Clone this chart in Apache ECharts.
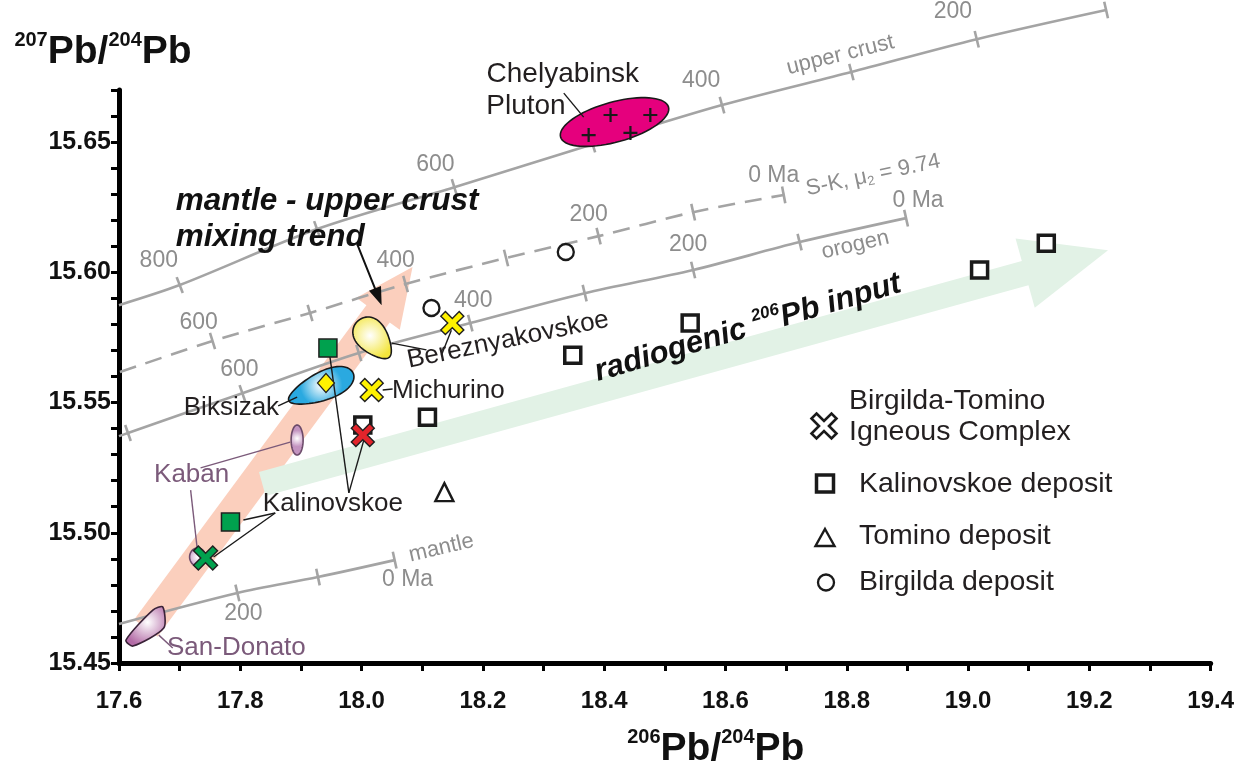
<!DOCTYPE html>
<html><head><meta charset="utf-8">
<script src="https://cdn.jsdelivr.net/npm/echarts@6/dist/echarts.min.js"></script>
<style>html,body{margin:0;padding:0;background:#fff}#c{width:1237px;height:782px}</style>
</head><body><div id="c"></div>
<script>
// ================= DATA =================
const xTickLabels = [17.6, 17.8, 18.0, 18.2, 18.4, 18.6, 18.8, 19.0, 19.2, 19.4];
const yTickLabels = [15.45, 15.50, 15.55, 15.60, 15.65];

// Pb growth curves (tick points every 100 Ma)
const upperCrustX = [17.6, 17.7001, 17.9265, 18.1529, 18.381, 18.5943, 18.8076, 19.0143, 19.2276];
const upperCrustY = [15.5874, 15.5951, 15.6166, 15.6327, 15.6492, 15.6642, 15.6769, 15.6895, 15.7007];
const upperCrustTicks = [1, 2, 3, 4, 5, 6, 7, 8];
const skX = [17.6016, 17.7542, 17.915, 18.0725, 18.2382, 18.3908, 18.5467, 18.696];
const skY = [15.5617, 15.5736, 15.5844, 15.5955, 15.6055, 15.6139, 15.6231, 15.6297];
const skTicks = [1, 2, 3, 4, 5, 6, 7];
const orogenX = [17.6, 17.6148, 17.8034, 17.9954, 18.1792, 18.3678, 18.5467, 18.7222, 18.8978];
const orogenY = [15.5371, 15.5383, 15.5536, 15.569, 15.5805, 15.592, 15.6009, 15.6116, 15.6208];
const orogenTicks = [1, 2, 3, 4, 5, 6, 7, 8];
const mantleX = [17.6, 17.7952, 17.9281, 18.0545];
const mantleY = [15.465, 15.4769, 15.483, 15.4895];
const mantleTicks = [1, 2, 3];

// trend arrows [start, tip]
const mixingArrow = [[17.6443, 15.4634], [18.084, 15.602]];
const radiogenicArrow = [[17.8363, 15.5187], [19.2308, 15.6085]];
const pointerArrow = [[17.9921, 15.6112], [18.0331, 15.5874]];

// samples
const kalinovskoeDepX = [19.129, 19.019, 18.5418, 18.3482, 18.1086, 18.002];
const kalinovskoeDepY = [15.6112, 15.6009, 15.5805, 15.5682, 15.5444, 15.5414];
const birgildaDepX = [18.3367, 18.1152];
const birgildaDepY = [15.6078, 15.5863];
const tominoDepX = [18.1365];
const tominoDepY = [15.5156];
const igneousYellowX = [18.1496, 18.0167];
const igneousYellowY = [15.5805, 15.5548];
const igneousRedX = [18.002];
const igneousRedY = [15.5375];
const igneousGreenX = [17.7427];
const igneousGreenY = [15.4903];
const greenSquareX = [17.9445, 17.7838];
const greenSquareY = [15.5709, 15.5041];
const yellowDiamondX = [17.9413];
const yellowDiamondY = [15.5575];
const plutonPlusX = [18.4105, 18.4761, 18.3744, 18.4433];
const plutonPlusY = [15.6604, 15.6604, 15.6527, 15.6535];

// fields (centres)
const blobNames = ['Chelyabinsk Pluton', 'Bereznyakovskoe', 'Biksizak', 'Kaban', 'Kaban'];
const blobX = [18.4171, 18.02, 17.9331, 17.8937, 17.7296];
const blobY = [15.6577, 15.5744, 15.556, 15.5356, 15.4907];
const sanDonatoX = [17.6115, 17.6558, 17.6722, 17.6738, 17.623];
const sanDonatoY = [15.4588, 15.4703, 15.4715, 15.4634, 15.4565];

// leader lines [x1, y1, x2, y2]
const blackLeaders = [
  [18.3334, 15.6688, 18.3662, 15.6596],
  [18.0496, 15.5728, 18.107, 15.5702],
  [18.148, 15.5778, 18.1316, 15.5682],
  [18.0348, 15.5548, 18.0512, 15.5552],
  [17.8625, 15.5487, 17.8937, 15.5521],
  [17.979, 15.5153, 17.9478, 15.5675],
  [17.979, 15.5153, 18.0052, 15.5368],
  [17.8576, 15.5076, 17.8051, 15.5049],
  [17.8576, 15.5076, 17.7559, 15.4907]
];
const purpleLeaders = [
  [17.7345, 15.5249, 17.8822, 15.5348],
  [17.7181, 15.5164, 17.7296, 15.4926],
  [17.6656, 15.4607, 17.6886, 15.4558]
];

// text annotations [text, x, y, rotation°]
const ageLabels = [
  ['800', 17.6656, 15.6043], ['600', 18.1217, 15.6412], ['400', 18.5598, 15.6734], ['200', 18.9749, 15.6999],
  ['600', 17.7313, 15.5805], ['400', 18.0561, 15.6043], ['200', 18.3744, 15.622], ['0 Ma', 18.6796, 15.6373],
  ['600', 17.7985, 15.5625], ['400', 18.1841, 15.589], ['200', 18.5385, 15.6105], ['0 Ma', 18.9175, 15.6277],
  ['200', 17.8051, 15.4688], ['0 Ma', 18.0758, 15.4819]
];
const curveNames = [
  ['upper crust', 18.7895, 15.6834, 14],
  ['{t|S-K, μ}{s|2}{t| = 9.74}', 18.8436, 15.6373, 12],
  ['orogen', 18.8141, 15.6105, 13],
  ['mantle', 18.1316, 15.4941, 13]
];
const sampleLabels = [
  ['Bereznyakovskoe', 18.2415, 15.574, 11.7],
  ['Michurino', 18.1431, 15.5544, 0],
  ['Biksizak', 17.7854, 15.5479, 0],
  ['Kalinovskoe', 17.9527, 15.511, 0]
];
const plutonLabels = [['Chelyabinsk', 18.3318, 15.6761, 0], ['Pluton', 18.271, 15.6638, 0]];
const purpleLabels = [['Kaban', 17.7198, 15.5222, 0], ['San-Donato', 17.7936, 15.4558, 0]];
const trendLabels = [['mantle - upper crust', 17.6935, 15.6273, 0], ['mixing trend', 17.6935, 15.6135, 0]];
const radiogenicLabel = [['{b|radiogenic }{s|206}{b|Pb input}', 18.6369, 15.5786, 16.4]];

const legendItems = ['Birgilda-Tomino\nIgneous Complex', 'Kalinovskoe deposit', 'Tomino deposit', 'Birgilda deposit'];

// ================= STYLE / BUILD =================
const FONT = '"Liberation Sans", Arial, Helvetica, sans-serif';
const GRAY_LINE = '#a4a4a4';
const GRAY_TEXT = '#8d8d8d';
const INK = '#231f20';
const PURPLE = '#7b5a7a';
const X_PATH = 'path://M2,0 L5,3 L8,0 L10,2 L7,5 L10,8 L8,10 L5,7 L2,10 L0,8 L3,5 L0,2 Z';
const PLUS_PATH = 'path://M4.2,0 H5.8 V4.2 H10 V5.8 H5.8 V10 H4.2 V5.8 H0 V4.2 H4.2 Z';

const zip = (xs, ys) => xs.map((x, i) => [x, ys[i]]);

const curves = [
  {x: upperCrustX, y: upperCrustY, t: upperCrustTicks, dash: 'solid'},
  {x: skX, y: skY, t: skTicks, dash: [17, 10]},
  {x: orogenX, y: orogenY, t: orogenTicks, dash: 'solid'},
  {x: mantleX, y: mantleY, t: mantleTicks, dash: 'solid'}
];

const blobShapes = [
  {rx: 56, ry: 20, rot: 15.5, egg: 0, fill: '#e5007d', stroke: '#1a1a1a'},
  {rx: 24, ry: 15, rot: -50, egg: 0.3, fill: {type: 'radial', x: 0.45, y: 0.45, r: 0.6, colorStops: [{offset: 0, color: '#ffffff'}, {offset: 1, color: '#f3e53c'}]}, stroke: '#1a1a1a'},
  {rx: 35, ry: 14, rot: 23, egg: -0.25, fill: {type: 'radial', x: 0.5, y: 0.5, r: 0.6, colorStops: [{offset: 0, color: '#ffffff'}, {offset: 0.9, color: '#2aa9e0'}]}, stroke: '#1a1a1a'},
  {rx: 6, ry: 15, rot: 0, egg: 0, fill: {type: 'radial', x: 0.5, y: 0.45, r: 0.6, colorStops: [{offset: 0, color: '#ffffff'}, {offset: 1, color: '#c394c0'}]}, stroke: '#6b4a69'},
  {rx: 8, ry: 9, rot: 0, egg: 0, fill: {type: 'radial', x: 0.5, y: 0.5, r: 0.6, colorStops: [{offset: 0, color: '#ffffff'}, {offset: 1, color: '#c394c0'}]}, stroke: '#6b4a69'}
];

function ellipsePts(cx, cy, s) {
  const a = s.rot * Math.PI / 180, pts = [];
  for (let i = 0; i < 72; i++) {
    const t = i / 72 * Math.PI * 2;
    const ex = s.rx * Math.cos(t), ey = s.ry * Math.sin(t) * (1 - s.egg * Math.cos(t));
    pts.push([cx + ex * Math.cos(a) + ey * Math.sin(a), cy - ex * Math.sin(a) + ey * Math.cos(a)]);
  }
  return pts;
}

function arrowPts(p0, p1, shaftW, headW, headL) {
  const dx = p1[0] - p0[0], dy = p1[1] - p0[1], L = Math.hypot(dx, dy);
  const ux = dx / L, uy = dy / L, nx = -uy, ny = ux;
  const bx = p1[0] - ux * headL, by = p1[1] - uy * headL;
  return [
    [p0[0] + nx * shaftW / 2, p0[1] + ny * shaftW / 2],
    [bx + nx * shaftW / 2, by + ny * shaftW / 2],
    [bx + nx * headW / 2, by + ny * headW / 2],
    [p1[0], p1[1]],
    [bx - nx * headW / 2, by - ny * headW / 2],
    [bx - nx * shaftW / 2, by - ny * shaftW / 2],
    [p0[0] - nx * shaftW / 2, p0[1] - ny * shaftW / 2]
  ];
}

const bandArrows = [mixingArrow, radiogenicArrow];
const bandStyles = [
  {fill: '#fbcfbd', shaftW: 29, headW: 54, headL: 58},
  {fill: '#e2f2e6', shaftW: 25, headW: 72, headL: 86}
];

function textSeries(items, style, z) {
  return {
    type: 'custom', coordinateSystem: 'cartesian2d', clip: false, silent: true, z: z,
    data: items.map(d => [d[1], d[2]]),
    renderItem: (params, api) => {
      const it = items[params.dataIndex];
      const p = api.coord([api.value(0), api.value(1)]);
      return {type: 'text', x: p[0], y: p[1], rotation: (it[3] || 0) * Math.PI / 180,
        style: Object.assign({text: it[0], align: 'center', verticalAlign: 'middle', fontFamily: FONT}, style)};
    }
  };
}

function leaderSeries(list, color, width, z) {
  return {
    type: 'custom', coordinateSystem: 'cartesian2d', clip: false, silent: true, z: z,
    data: list,
    renderItem: (params, api) => {
      const a = api.coord([api.value(0), api.value(1)]), b = api.coord([api.value(2), api.value(3)]);
      return {type: 'line', shape: {x1: a[0], y1: a[1], x2: b[0], y2: b[1]}, style: {stroke: color, lineWidth: width}};
    }
  };
}

function scatter(xs, ys, symbol, size, fill, stroke, bw, z, rot) {
  return {type: 'scatter', data: zip(xs, ys), symbol: symbol, symbolSize: size, symbolRotate: rot || 0,
    itemStyle: {color: fill, borderColor: stroke, borderWidth: bw, opacity: 1}, z: z, clip: false, silent: true};
}

const tickData = [];
curves.forEach((c, ci) => c.t.forEach(i => tickData.push([c.x[i], c.y[i], ci, i])));

const series = [
  // trend bands
  {type: 'custom', coordinateSystem: 'cartesian2d', clip: false, silent: true, z: 1,
    data: bandArrows.map(a => [a[0][0], a[0][1], a[1][0], a[1][1]]),
    renderItem: (params, api) => {
      const s = bandStyles[params.dataIndex];
      const p0 = api.coord([api.value(0), api.value(1)]), p1 = api.coord([api.value(2), api.value(3)]);
      return {type: 'polygon', shape: {points: arrowPts(p0, p1, s.shaftW, s.headW, s.headL)}, style: {fill: s.fill}};
    }},
  // growth curves
  ...curves.map(c => ({type: 'line', data: zip(c.x, c.y), smooth: 0.3, symbol: 'none', clip: false, silent: true, z: 2,
    lineStyle: {color: GRAY_LINE, width: 2.6, type: c.dash}})),
  // age ticks
  {type: 'custom', coordinateSystem: 'cartesian2d', clip: false, silent: true, z: 2,
    data: tickData,
    renderItem: (params, api) => {
      const ci = api.value(2), i = api.value(3), c = curves[ci];
      const p = api.coord([api.value(0), api.value(1)]);
      const i0 = Math.max(i - 1, 0), i1 = Math.min(i + 1, c.x.length - 1);
      const a = api.coord([c.x[i0], c.y[i0]]), b = api.coord([c.x[i1], c.y[i1]]);
      const dx = b[0] - a[0], dy = b[1] - a[1], L = Math.hypot(dx, dy);
      const nx = -dy / L * 8.5, ny = dx / L * 8.5;
      return {type: 'line', shape: {x1: p[0] - nx, y1: p[1] - ny, x2: p[0] + nx, y2: p[1] + ny}, style: {stroke: GRAY_LINE, lineWidth: 2.6}};
    }},
  // fields
  {type: 'custom', coordinateSystem: 'cartesian2d', clip: false, silent: true, z: 3,
    data: zip(blobX, blobY),
    renderItem: (params, api) => {
      const s = blobShapes[params.dataIndex];
      const p = api.coord([api.value(0), api.value(1)]);
      return {type: 'polygon', shape: {points: ellipsePts(p[0], p[1], s), smooth: 0}, style: {fill: s.fill, stroke: s.stroke, lineWidth: 1.6}};
    }},
  {type: 'custom', coordinateSystem: 'cartesian2d', clip: false, silent: true, z: 3,
    data: [[sanDonatoX[0], sanDonatoY[0]]],
    renderItem: (params, api) => {
      const pts = sanDonatoX.map((x, i) => api.coord([x, sanDonatoY[i]]));
      return {type: 'polygon', shape: {points: pts, smooth: 0.25},
        style: {fill: {type: 'radial', x: 0.55, y: 0.4, r: 0.6, colorStops: [{offset: 0, color: '#ffffff'}, {offset: 1, color: '#b36ba6'}]}, stroke: '#3a2238', lineWidth: 1.6}};
    }},
  // leaders
  leaderSeries(blackLeaders, '#1a1a1a', 1.4, 4),
  leaderSeries(purpleLeaders, PURPLE, 1.4, 4),
  // pointer arrow of the mixing trend label
  {type: 'custom', coordinateSystem: 'cartesian2d', clip: false, silent: true, z: 6,
    data: [[pointerArrow[0][0], pointerArrow[0][1], pointerArrow[1][0], pointerArrow[1][1]]],
    renderItem: (params, api) => {
      const p0 = api.coord([api.value(0), api.value(1)]), p1 = api.coord([api.value(2), api.value(3)]);
      return {type: 'polygon', shape: {points: arrowPts(p0, p1, 2, 13, 18)}, style: {fill: '#111'}};
    }},
  // samples
  scatter(kalinovskoeDepX, kalinovskoeDepY, 'rect', 16, '#ffffff', '#1a1a1a', 3.5, 5),
  scatter(birgildaDepX, birgildaDepY, 'circle', 16, '#ffffff', '#1a1a1a', 2.3, 5),
  scatter(tominoDepX, tominoDepY, 'triangle', 18, '#ffffff', '#1a1a1a', 2.4, 5),
  scatter(greenSquareX, greenSquareY, 'rect', 18, '#00a14e', '#1f1f1f', 1.5, 5),
  scatter(yellowDiamondX, yellowDiamondY, 'diamond', [17, 19], '#fff200', '#1f1f1f', 1.2, 6),
  scatter(igneousYellowX, igneousYellowY, X_PATH, 23, '#fff200', '#1f1f1f', 1.4, 6),
  scatter(igneousRedX, igneousRedY, X_PATH, 23, '#e3242b', '#1f1f1f', 1.4, 6),
  scatter(igneousGreenX, igneousGreenY, X_PATH, 24, '#00a14e', '#1f1f1f', 1.4, 6),
  scatter(plutonPlusX, plutonPlusY, PLUS_PATH, 14, '#1a1a1a', '#1a1a1a', 0, 6),
  // texts
  textSeries(ageLabels, {fontSize: 23, fill: GRAY_TEXT}, 7),
  textSeries(curveNames, {fontSize: 22, fill: GRAY_TEXT, rich: {t: {fontSize: 22, fontFamily: FONT, fill: GRAY_TEXT}, s: {fontSize: 13, fontFamily: FONT, fill: GRAY_TEXT, verticalAlign: 'bottom', lineHeight: 24}}}, 7),
  textSeries(sampleLabels, {fontSize: 26, fill: INK}, 7),
  textSeries(plutonLabels, {fontSize: 28, fill: INK}, 7),
  textSeries(purpleLabels, {fontSize: 26, fill: PURPLE}, 7),
  textSeries(trendLabels, {fontSize: 31.5, fontWeight: 'bold', fontStyle: 'italic', fill: '#111', align: 'left'}, 7),
  textSeries(radiogenicLabel, {fontSize: 31, fill: '#111', rich: {
    b: {fontSize: 31, fontWeight: 'bold', fontStyle: 'italic', fontFamily: FONT, fill: '#111', lineHeight: 36},
    s: {fontSize: 17, fontWeight: 'bold', fontStyle: 'italic', fontFamily: FONT, fill: '#111', verticalAlign: 'top', lineHeight: 22}}}, 7)
];

function xPoly(cx, cy, s) {
  const P = [[2, 0], [5, 3], [8, 0], [10, 2], [7, 5], [10, 8], [8, 10], [5, 7], [2, 10], [0, 8], [3, 5], [0, 2]];
  return P.map(([a, b]) => [cx + (a - 5) * s / 10, cy + (b - 5) * s / 10]);
}
const legendFont = {fontSize: 28.5, fontFamily: FONT, fill: INK, verticalAlign: 'middle', align: 'left'};
const graphic = [
  {type: 'polygon', shape: {points: xPoly(824, 426, 25)}, style: {fill: '#fff', stroke: '#1a1a1a', lineWidth: 2.6}, z: 10},
  {type: 'text', x: 849, y: 417, style: Object.assign({text: legendItems[0], lineHeight: 31}, legendFont), z: 10},
  {type: 'rect', shape: {x: 816.5, y: 475, width: 17, height: 17}, style: {fill: '#fff', stroke: '#1a1a1a', lineWidth: 3.5}, z: 10},
  {type: 'text', x: 859, y: 484, style: Object.assign({text: legendItems[1]}, legendFont), z: 10},
  {type: 'polygon', shape: {points: [[825, 529], [834.5, 546], [815.5, 546]]}, style: {fill: '#fff', stroke: '#1a1a1a', lineWidth: 2.4}, z: 10},
  {type: 'text', x: 859, y: 536, style: Object.assign({text: legendItems[2]}, legendFont), z: 10},
  {type: 'circle', shape: {cx: 826, cy: 582.5, r: 8}, style: {fill: '#fff', stroke: '#1a1a1a', lineWidth: 2.3}, z: 10},
  {type: 'text', x: 859, y: 582, style: Object.assign({text: legendItems[3]}, legendFont), z: 10}
];

const near = (v, list) => list.some(t => Math.abs(t - v) < 1e-6);
const nameRich = {
  sup: {fontSize: 20, fontWeight: 'bold', fontFamily: FONT, color: '#111', verticalAlign: 'top', lineHeight: 26},
  big: {fontSize: 39, fontWeight: 'bold', fontFamily: FONT, color: '#111', lineHeight: 44}
};

const option = {
  backgroundColor: '#ffffff',
  animation: false,
  grid: {left: 119, right: 22, top: 90, bottom: 119, containLabel: false},
  xAxis: {
    type: 'value', min: 17.6, max: 19.4, interval: 0.1,
    name: '{sup|206}{big|Pb/}{sup|204}{big|Pb}', nameLocation: 'middle', nameGap: 64,
    nameTextStyle: {rich: nameRich, padding: [0, 0, 0, 102]},
    axisLine: {show: true, onZero: false, lineStyle: {color: '#000', width: 5}},
    axisTick: {show: true, length: 8, lineStyle: {color: '#000', width: 3}},
    axisLabel: {margin: 26, fontSize: 24, fontWeight: 'bold', fontFamily: FONT, color: '#111',
      formatter: v => near(v, xTickLabels) ? v.toFixed(1) : ''},
    splitLine: {show: false}
  },
  yAxis: {
    type: 'value', min: 15.45, max: 15.67, interval: 0.01,
    name: '{sup|207}{big|Pb/}{sup|204}{big|Pb}', nameLocation: 'end', nameGap: 16,
    nameTextStyle: {rich: nameRich, padding: [0, 32, 0, 0]},
    axisLine: {show: true, onZero: false, lineStyle: {color: '#000', width: 5}},
    axisTick: {show: true, length: 8, lineStyle: {color: '#000', width: 3}},
    axisLabel: {margin: 8, fontSize: 25, fontWeight: 'bold', fontFamily: FONT, color: '#111',
      formatter: v => near(v, yTickLabels) ? v.toFixed(2) : ''},
    splitLine: {show: false}
  },
  graphic: graphic,
  series: series
};

const chart = echarts.init(document.getElementById('c'));
chart.setOption(option);
</script>
</body></html>
